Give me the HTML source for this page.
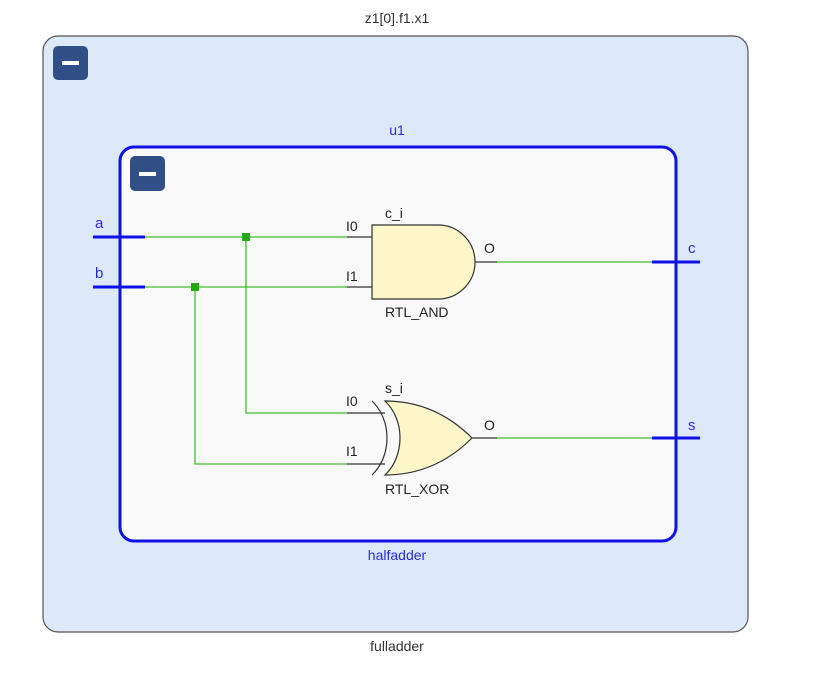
<!DOCTYPE html>
<html><head><style>
body{margin:0;background:#fff;width:840px;height:679px;overflow:hidden}
svg text{font-family:"Liberation Sans",Arial,sans-serif}
</style></head><body>
<svg width="840" height="679" viewBox="0 0 840 679" xmlns="http://www.w3.org/2000/svg">
<text x="397" y="23" font-size="14" fill="#333" text-anchor="middle">z1[0].f1.x1</text>
<rect x="43" y="36" width="705" height="596" rx="15" fill="#dde8f8" stroke="#555" stroke-width="1.2"/>
<rect x="53" y="46" width="35" height="34" rx="5" fill="#2f4f86"/>
<rect x="62" y="61" width="17" height="4" fill="#fff"/>
<text x="397" y="651" font-size="14" fill="#333" text-anchor="middle">fulladder</text>
<text x="397" y="135" font-size="14" fill="#2a2ae0" text-anchor="middle">u1</text>
<rect x="120" y="147" width="556" height="394" rx="14" fill="#f9f9f9" stroke="#1010e8" stroke-width="3"/>
<rect x="130" y="156" width="35" height="35" rx="5" fill="#2f4f86"/>
<rect x="139" y="172" width="17" height="4" fill="#fff"/>
<text x="397" y="560" font-size="14" fill="#2a2ae0" text-anchor="middle">halfadder</text>
<g stroke="#1010e8" stroke-width="3">
<line x1="93" y1="237" x2="145" y2="237"/>
<line x1="93" y1="287" x2="145" y2="287"/>
<line x1="652" y1="262" x2="700" y2="262"/>
<line x1="652" y1="438" x2="700" y2="438"/>
</g>
<g font-size="15" fill="#2a2ae0">
<text x="95" y="228">a</text><text x="95" y="278">b</text>
<text x="688" y="253">c</text><text x="688" y="430">s</text>
</g>
<g stroke="#44bb33" stroke-width="1.3" fill="none">
<line x1="145" y1="237" x2="347" y2="237"/>
<line x1="145" y1="287" x2="347" y2="287"/>
<polyline points="246,237 246,413 347,413"/>
<polyline points="195,287 195,464 347,464"/>
<line x1="497" y1="262" x2="652" y2="262"/>
<line x1="497" y1="438" x2="652" y2="438"/>
</g>
<rect x="242" y="233" width="8" height="8" fill="#22aa11"/>
<rect x="191" y="283" width="8" height="8" fill="#22aa11"/>
<g stroke="#333" stroke-width="1.2" fill="none">
<line x1="347" y1="237" x2="372" y2="237"/>
<line x1="347" y1="287" x2="372" y2="287"/>
<line x1="475" y1="262" x2="497" y2="262"/>
<line x1="347" y1="413" x2="385" y2="413"/>
<line x1="347" y1="464" x2="385" y2="464"/>
<line x1="472" y1="438" x2="497" y2="438"/>
</g>
<path d="M372,225 H438 A37,37 0 0 1 438,299 H372 Z" fill="#fdf6c8" stroke="#333" stroke-width="1.2"/>
<path d="M372,401 C392,420 392,456 372,475" fill="none" stroke="#333" stroke-width="1.2"/>
<path d="M385,401 Q435,401 472,438 Q435,475 385,475 C405,456 405,420 385,401 Z" fill="#fdf6c8" stroke="#333" stroke-width="1.2"/>
<g font-size="14" fill="#222">
<text x="346" y="231">I0</text><text x="346" y="281">I1</text>
<text x="385" y="218">c_i</text><text x="484" y="253">O</text>
<text x="385" y="317">RTL_AND</text>
<text x="346" y="406">I0</text><text x="346" y="456">I1</text>
<text x="385" y="393">s_i</text><text x="484" y="430">O</text>
<text x="385" y="494">RTL_XOR</text>
</g>
</svg>
</body></html>
